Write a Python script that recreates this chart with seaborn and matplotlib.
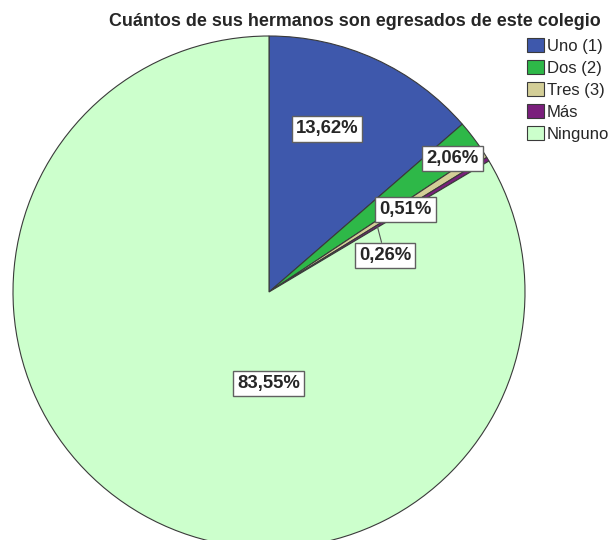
import numpy as np
import matplotlib
matplotlib.use("Agg")
import matplotlib.pyplot as plt
import seaborn as sns

# Data
categorias = ["Uno (1)", "Dos (2)", "Tres (3)", "Más", "Ninguno"]
porcentajes = [13.62, 2.06, 0.51, 0.26, 83.55]
etiquetas = ["13,62%", "2,06%", "0,51%", "0,26%", "83,55%"]
colores = ["#3E58AC", "#2EB848", "#D3CE97", "#7A1F7C", "#CCFFCC"]

# label placement (fraction of radius, angle in degrees)
label_r = [0.676, 0.886, 0.623, 0.475, 0.359]
label_ang = [70.4, 36.0, 31.1, 17.5, -90.3]

sns.set_style("white")
plt.rcParams["font.family"] = ["Liberation Sans", "DejaVu Sans"]

fig = plt.figure(figsize=(6.11, 5.40), dpi=100)
ax = fig.add_axes([0, 0, 1, 1])

wedges, _ = ax.pie(porcentajes, colors=sns.color_palette(colores), startangle=90,
                   counterclock=False, radius=1, center=(0, 0),
                   wedgeprops=dict(edgecolor="#3a3a3a", linewidth=0.8))

# pixel scale: radius ~256 px, centre at (269, 292) from top-left
esc = 256
cx, cy = 269, 292
ax.set_xlim(-cx / esc, (611 - cx) / esc)
ax.set_ylim(-(540 - cy) / esc, cy / esc)
ax.set_aspect("equal")
ax.axis("off")

caja = dict(boxstyle="square,pad=0.22", facecolor="white", edgecolor="#606060", linewidth=1.0)
for i, w in enumerate(wedges):
    a = np.deg2rad(label_ang[i])
    tx, ty = label_r[i] * np.cos(a), label_r[i] * np.sin(a)
    if categorias[i] == "Más":
        mid = np.deg2rad((w.theta1 + w.theta2) / 2)
        ax.annotate(etiquetas[i], xy=(0.495 * np.cos(mid), 0.495 * np.sin(mid)), xytext=(tx, ty),
                    ha="center", va="center", fontsize=13.3, fontweight="bold", bbox=caja,
                    arrowprops=dict(arrowstyle="-", color="#555555", linewidth=0.8,
                                    shrinkA=0, shrinkB=0))
    else:
        ax.text(tx, ty, etiquetas[i], ha="center", va="center", fontsize=13.3,
                fontweight="bold", bbox=caja)

fig.text(355 / 611, 1 - 21 / 540, "Cuántos de sus hermanos son egresados de este colegio",
         ha="center", va="center", fontsize=12.9, fontweight="bold")

fig.legend(wedges, categorias, loc="upper left", bbox_to_anchor=(527 / 611, 1 - 38 / 540),
           frameon=False, fontsize=12, handlelength=1.02, handleheight=0.96,
           handletextpad=0.16, labelspacing=0.36, borderpad=0, borderaxespad=0)

fig.savefig("out.png", dpi=100)
